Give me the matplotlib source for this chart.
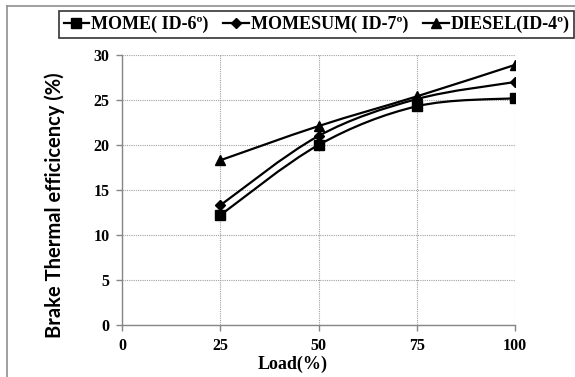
import numpy as np
import matplotlib
matplotlib.use('Agg')
from matplotlib import pyplot as plt
from matplotlib.path import Path
from matplotlib.patches import PathPatch
from matplotlib.lines import Line2D

load = [25, 50, 75, 100]
mome = [12.2, 20.0, 24.3, 25.2]
momesum = [13.3, 21.0, 25.1, 27.0]
diesel = [18.3, 22.1, 25.4, 28.9]
labels = ['MOME( ID-6º)', 'MOMESUM( ID-7º)', 'DIESEL(ID-4º)']
markers = ['s', 'D', '^']
msizes = [7, 5, 7]


def smooth_path(x, y):
    # excel style smoothed line: cubic bezier through the points
    pts = np.column_stack([x, y]).astype(float)
    n = len(pts)
    verts = [pts[0]]
    codes = [Path.MOVETO]
    for i in range(n - 1):
        p0 = pts[i - 1] if i > 0 else pts[i]
        p1 = pts[i]
        p2 = pts[i + 1]
        p3 = pts[i + 2] if i + 2 < n else pts[i + 1]
        c1 = p1 + (p2 - p0) / 6.0
        c2 = p2 - (p3 - p1) / 6.0
        verts += [c1, c2, p2]
        codes += [Path.CURVE4] * 3
    return Path(verts, codes)


fig = plt.figure(figsize=(5.75, 3.77), dpi=100)
ax = fig.add_axes([122 / 575, 1 - 325 / 377, 393 / 575, 270 / 377])

serif = {'family': 'Liberation Serif', 'weight': 'bold'}
handles = []
for ys, m, ms, lab in zip([mome, momesum, diesel], markers, msizes, labels):
    ax.add_patch(PathPatch(smooth_path(load, ys), fill=False, lw=1.6,
                           edgecolor='black', zorder=3))
    ax.plot(load, ys, linestyle='none', marker=m, ms=ms, color='black', zorder=4)
    handles.append(Line2D([], [], color='black', lw=1.6, marker=m, ms=ms))

ax.set_xlim(0, 100)
ax.set_ylim(0, 30)
ax.set_xticks([0, 25, 50, 75, 100])
ax.set_yticks(range(0, 31, 5))
ax.grid(True, color='#a0a0a0', linestyle=(0, (1, 1)), lw=0.8)
ax.set_axisbelow(True)
for s in ['top', 'right']:
    ax.spines[s].set_visible(False)
for s in ['left', 'bottom']:
    ax.spines[s].set_color('#868686')
    ax.spines[s].set_linewidth(1.0)
ax.tick_params(direction='out', length=4, width=1, color='#868686',
               labelsize=11.5, pad=5)
for t in ax.get_xticklabels() + ax.get_yticklabels():
    t.set_fontfamily('Liberation Serif')
    t.set_fontweight('bold')

ax.set_xlabel('Load(%)', fontsize=13, **serif)
ax.xaxis.set_label_coords(0.435, -0.112)
ax.set_ylabel('Brake Thermal efficicency (%)', fontsize=14.5,
              family='Lato', weight='bold')
ax.yaxis.set_label_coords(-0.145, 0.444)

leg = fig.legend(handles, labels, loc='center', ncol=3,
                 bbox_to_anchor=(316.5 / 575, 1 - 24.5 / 377),
                 prop={'family': 'Liberation Serif', 'weight': 'bold', 'size': 13},
                 frameon=True, fancybox=False, edgecolor='black',
                 handlelength=1.4, handletextpad=0.1, columnspacing=0.85,
                 borderpad=0.25)
leg.get_frame().set_linewidth(1.2)

# outer chart frame
fig.add_artist(Line2D([7 / 575, 7 / 575], [0, 1 - 6 / 377], color='#909090',
                      lw=1.2, transform=fig.transFigure))
fig.add_artist(Line2D([7 / 575, 1], [1 - 6 / 377, 1 - 6 / 377], color='#909090',
                      lw=1.2, transform=fig.transFigure))

fig.savefig('out.png', dpi=100)
